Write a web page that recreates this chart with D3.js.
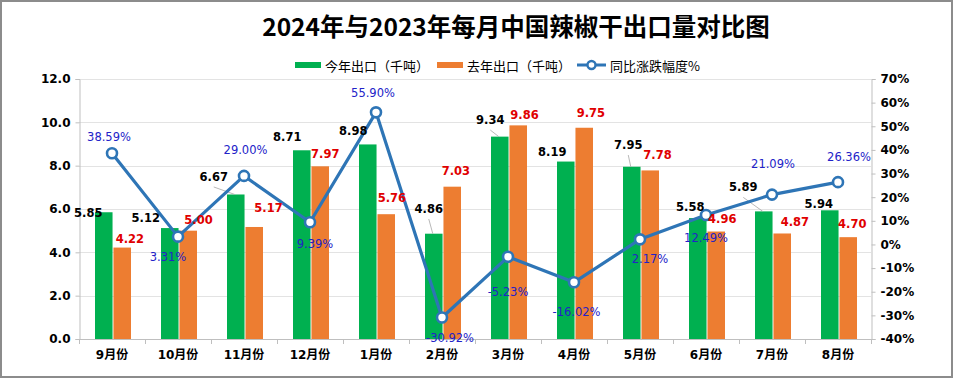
<!DOCTYPE html>
<html><head><meta charset="utf-8">
<script src="https://cdn.jsdelivr.net/npm/d3@7"></script>
<style>
html,body{margin:0;padding:0;background:#fff;}
svg{display:block;}
</style></head>
<body>
<svg id="c" width="955" height="379"></svg>
<script>
// ---- data ----
const months = ["9月份","10月份","11月份","12月份","1月份","2月份","3月份","4月份","5月份","6月份","7月份","8月份"];
const thisYear = [5.85,5.12,6.67,8.71,8.98,4.86,9.34,8.19,7.95,5.58,5.89,5.94];
const lastYear = [4.22,5.00,5.17,7.97,5.76,7.03,9.86,9.75,7.78,4.96,4.87,4.70];
const yoyPct = [38.59,3.31,29.00,9.39,55.90,-30.92,-5.23,-16.02,2.17,12.49,21.09,26.36];
const leftTicks = [0,2,4,6,8,10,12];
const rightTicks = [-40,-30,-20,-10,0,10,20,30,40,50,60,70];
const seriesNames = ["今年出口（千吨）","去年出口（千吨）","同比涨跌幅度%"];
const titleText = "2024年与2023年每月中国辣椒干出口量对比图";

// ---- layout: label nudges (manual label placement in the original) ----
const nudgeCur = [[-15.5,0.5],[-24,-10.3],[-22,-17.5],[-14.5,-13],[-14.5,-13.7],[-5,-24.7],[-9.5,-16.6],[-13.5,-9.2],[-3.5,-21.7],[-7.5,-11.3],[-20.5,-24],[-11,-6]];
const nudgePrev = [[7.7,-8.6],[10.3,-10.7],[14.3,-18.7],[5,-12.3],[5.7,-16],[3.7,-16],[6.3,-10.4],[6.7,-15],[7.3,-15.4],[6,-12.2],[12.7,-11.2],[4,-12.9]];
const nudgePct = [[-3,-16],[-10,20],[1.5,-26],[5,22],[-3,-19],[8,20],[0,35.5],[2.5,30],[10,20],[0,23],[1,-30.6],[11,-25.4]];
const leaderIdx = [2,5,6,8,10];

const C_GREEN = "#00B050", C_ORANGE = "#ED7D31", C_LINE = "#2E75B6";
const svg = d3.select("#c");
const L = 79, R = 871, T = 79, B = 339;

// frame
svg.append("rect").attr("x",1).attr("y",1).attr("width",951).attr("height",376)
  .attr("fill","#fff").attr("stroke","#8c8c8c").attr("stroke-width",2);

const x = d3.scaleBand().domain(months).range([L,R]).padding(0);
const sub = d3.scaleBand().domain(["cur","prev"]).range([-17,19]).paddingInner(0.05);
const yL = d3.scaleLinear().domain([0,12]).range([B,T]);
const yR = d3.scaleLinear().domain([-40,70]).range([B,T]);

// title
svg.append("text").attr("x",516).attr("y",25).attr("text-anchor","middle").attr("dominant-baseline","central")
  .attr("font-family","'Noto Sans CJK SC','Noto Sans',sans-serif").attr("font-weight","bold")
  .attr("font-size",24.5).attr("fill","#000").text(titleText);

// gridlines
svg.append("g").selectAll("line").data(leftTicks.filter(d=>d>0)).join("line")
  .attr("x1",L).attr("x2",R).attr("y1",d=>Math.round(yL(d))+0.5).attr("y2",d=>Math.round(yL(d))+0.5)
  .attr("stroke","#E3E3E3").attr("stroke-width",1);

const tickFont = "'DejaVu Sans','Noto Sans CJK SC',sans-serif";

// left axis
const gL = svg.append("g").attr("transform",`translate(${L+0.5},0)`)
  .call(d3.axisLeft(yL).tickValues(leftTicks).tickFormat(d3.format(".1f")).tickSize(4).tickPadding(5));
// right axis
const gR = svg.append("g").attr("transform",`translate(${R+0.5},0)`)
  .call(d3.axisRight(yR).tickValues(rightTicks).tickFormat(d=>d+"%").tickSize(4).tickPadding(5));
// bottom axis
const gB = svg.append("g").attr("transform",`translate(0,${B+0.5})`)
  .call(d3.axisBottom(x).tickSize(0).tickPadding(11));
// band boundary ticks
svg.append("g").selectAll("line").data(months.concat(["_end"])).join("line")
  .attr("x1",(d,i)=>Math.round(L+x.step()*i)+0.5).attr("x2",(d,i)=>Math.round(L+x.step()*i)+0.5)
  .attr("y1",B).attr("y2",B+5).attr("stroke","#BFBFBF");

[gL,gR,gB].forEach(g=>{
  g.selectAll(".domain").attr("stroke","#BFBFBF").attr("stroke-width",1);
  g.selectAll(".tick line").attr("stroke","#BFBFBF");
  g.selectAll("text").attr("font-family",tickFont).attr("font-weight","bold").attr("font-size",12).attr("fill","#000");
});
gB.selectAll(".domain").attr("d",`M${L},0H${R}`);
gB.selectAll("text").attr("dy","0.32em").attr("y",16);

// bars
const bars = svg.append("g");
bars.selectAll(".cur").data(thisYear).join("rect").attr("class","cur")
  .attr("x",(d,i)=>x(months[i])+x.bandwidth()/2+sub("cur")).attr("width",sub.bandwidth())
  .attr("y",d=>yL(d)).attr("height",d=>B-yL(d)).attr("fill",C_GREEN);
bars.selectAll(".prev").data(lastYear).join("rect").attr("class","prev")
  .attr("x",(d,i)=>x(months[i])+x.bandwidth()/2+sub("prev")).attr("width",sub.bandwidth())
  .attr("y",d=>yL(d)).attr("height",d=>B-yL(d)).attr("fill",C_ORANGE);

const cx = i => x(months[i])+x.bandwidth()/2;
const curCx = i => cx(i)+sub("cur")+sub.bandwidth()/2;
const prevCx = i => cx(i)+sub("prev")+sub.bandwidth()/2;

// leader lines
svg.append("g").selectAll("line").data(leaderIdx).join("line")
  .attr("x1",i=>curCx(i)+nudgeCur[i][0]).attr("y1",i=>yL(thisYear[i])+nudgeCur[i][1]+10)
  .attr("x2",i=>curCx(i)-1).attr("y2",i=>yL(thisYear[i]))
  .attr("stroke","#A6A6A6").attr("stroke-width",0.8);

// line series
const line = d3.line().x((d,i)=>cx(i)).y(d=>yR(d));
svg.append("path").datum(yoyPct).attr("d",line).attr("fill","none")
  .attr("stroke",C_LINE).attr("stroke-width",3.2).attr("stroke-linejoin","round");
svg.append("g").selectAll("circle").data(yoyPct).join("circle")
  .attr("cx",(d,i)=>cx(i)).attr("cy",d=>yR(d)).attr("r",5)
  .attr("fill","#fff").attr("stroke",C_LINE).attr("stroke-width",2.6);

// labels
const lab = svg.append("g").attr("font-family",tickFont);
lab.selectAll(".lc").data(thisYear).join("text").attr("class","lc")
  .attr("x",(d,i)=>curCx(i)+nudgeCur[i][0]).attr("y",(d,i)=>yL(d)+nudgeCur[i][1])
  .attr("text-anchor","middle").attr("dominant-baseline","central")
  .attr("font-weight","bold").attr("font-size",11.5).attr("fill","#000").text(d=>d.toFixed(2));
lab.selectAll(".lp").data(lastYear).join("text").attr("class","lp")
  .attr("x",(d,i)=>prevCx(i)+nudgePrev[i][0]).attr("y",(d,i)=>yL(d)+nudgePrev[i][1])
  .attr("text-anchor","middle").attr("dominant-baseline","central")
  .attr("font-weight","bold").attr("font-size",11.5).attr("fill","#E00000").text(d=>d.toFixed(2));
lab.selectAll(".lr").data(yoyPct).join("text").attr("class","lr")
  .attr("x",(d,i)=>cx(i)+nudgePct[i][0]).attr("y",(d,i)=>yR(d)+nudgePct[i][1])
  .attr("text-anchor","middle").attr("dominant-baseline","central")
  .attr("font-size",11.5).attr("fill","#2222C8").text(d=>d.toFixed(2)+"%");

// legend
const lg = svg.append("g").attr("font-family","'Noto Sans CJK SC',sans-serif").attr("font-size",13);
const ly = 65;
lg.append("rect").attr("x",295).attr("y",ly-3).attr("width",26).attr("height",6).attr("fill",C_GREEN);
lg.append("text").attr("x",325).attr("y",ly).attr("dominant-baseline","central").text(seriesNames[0]);
lg.append("rect").attr("x",437).attr("y",ly-3).attr("width",26).attr("height",6).attr("fill",C_ORANGE);
lg.append("text").attr("x",467).attr("y",ly).attr("dominant-baseline","central").text(seriesNames[1]);
lg.append("line").attr("x1",577).attr("x2",606).attr("y1",ly).attr("y2",ly).attr("stroke",C_LINE).attr("stroke-width",3);
lg.append("circle").attr("cx",591.5).attr("cy",ly).attr("r",4).attr("fill","#fff").attr("stroke",C_LINE).attr("stroke-width",2.4);
lg.append("text").attr("x",610).attr("y",ly).attr("dominant-baseline","central").text(seriesNames[2]);
</script>
</body></html>
